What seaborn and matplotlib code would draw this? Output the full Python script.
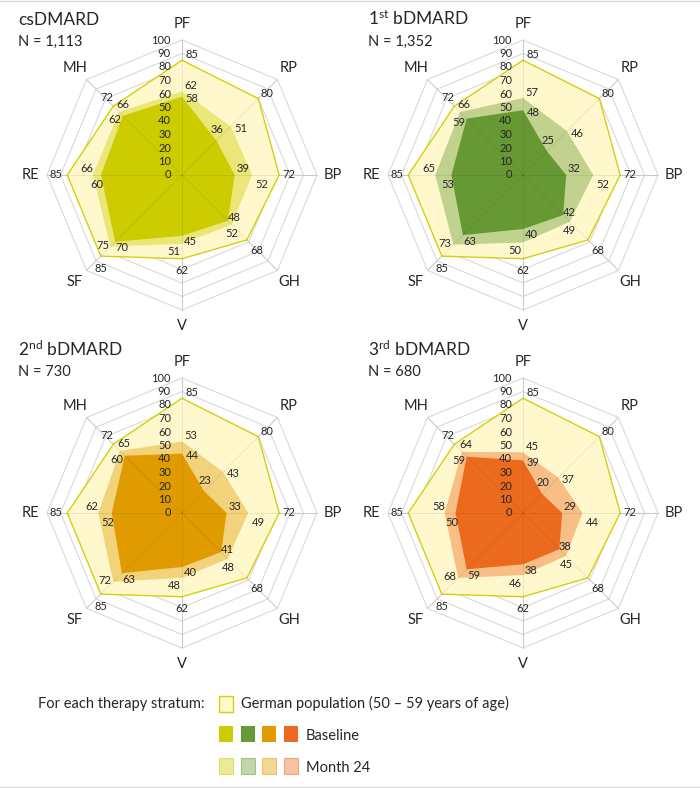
import numpy as np
import pandas as pd
import matplotlib as mpl
import matplotlib.pyplot as plt
import seaborn as sns
from matplotlib.patches import Rectangle
from matplotlib.lines import Line2D

# SF-36 domains, clockwise from the top
domains = ["PF", "RP", "BP", "GH", "V", "SF", "RE", "MH"]
population = [85, 80, 72, 68, 62, 85, 85, 72]

strata = ["csDMARD", "1st bDMARD", "2nd bDMARD", "3rd bDMARD"]
titles = ["csDMARD", r"1$^{\rm st}$ bDMARD", r"2$^{\rm nd}$ bDMARD", r"3$^{\rm rd}$ bDMARD"]
n_patients = ["1,113", "1,352", "730", "680"]

baseline_cs = [58, 36, 39, 48, 45, 70, 60, 62]
month24_cs = [62, 51, 52, 52, 51, 75, 66, 66]
baseline_b1 = [48, 25, 32, 42, 40, 63, 53, 59]
month24_b1 = [57, 46, 52, 49, 50, 73, 65, 66]
baseline_b2 = [44, 23, 33, 41, 40, 63, 52, 60]
month24_b2 = [53, 43, 49, 48, 48, 72, 62, 65]
baseline_b3 = [39, 20, 29, 38, 38, 59, 50, 59]
month24_b3 = [45, 37, 44, 45, 46, 68, 58, 64]

baselines = [baseline_cs, baseline_b1, baseline_b2, baseline_b3]
months24 = [month24_cs, month24_b1, month24_b2, month24_b3]
colors = ["#CCCC00", "#669933", "#E09B00", "#EB6A1E"]

rows = []
for s, b, m in zip(strata, baselines, months24):
    for d, vb, vm, vp in zip(domains, b, m, population):
        rows.append((s, d, "Population", vp))
        rows.append((s, d, "Month 24", vm))
        rows.append((s, d, "Baseline", vb))
df = pd.DataFrame(rows, columns=["stratum", "domain", "series", "value"])

# label offsets in pixels (dx, dy up) for each domain, per series
label_offsets = {
    "Population": [(10, 6), (9, 5), (10, 0), (10, -11), (0, -12), (0, -12), (-11, 0), (-6, 9)],
    "Month 24": [(9, 6), (10, -2), (10, -9), (0, -9), (-8, -8), (-8, 1), (-6, 7), (4, 7)],
    "Baseline": [(10, -2), (1, 11), (8, 6), (6, 3), (8, -6), (7, -6), (-4, -9), (-8, -4)],
}

sns.set_theme(style="white")
plt.rcParams["font.family"] = ["Lato", "DejaVu Sans"]
plt.rcParams["mathtext.fontset"] = "custom"
plt.rcParams["mathtext.rm"] = "Lato"
plt.rcParams["mathtext.it"] = "Lato:italic"
plt.rcParams["mathtext.bf"] = "Lato:bold"

TXT = "#262626"
GRID = "#D9D9D9"
W, H = 700, 788
R = 135
centers = [(182, 175), (523, 175), (182, 513), (523, 513)]
title_pos = [(18, 25, 46), (368, 25, 46), (18, 356, 376), (368, 356, 376)]

fig = plt.figure(figsize=(7, 7.88), dpi=100)
angles = np.arange(len(domains)) * 2 * np.pi / len(domains)
closed = np.r_[angles, angles[0]]

for i, stratum in enumerate(strata):
    cx, cy = centers[i]
    ax = fig.add_axes([(cx - R) / W, (H - cy - R) / H, 2 * R / W, 2 * R / H],
                      projection="polar")
    ax.set_theta_zero_location("N")
    ax.set_theta_direction(-1)
    ax.set_ylim(0, 100)
    ax.set_axis_off()

    # octagonal grid
    for lvl in range(10, 101, 10):
        ax.plot(closed, [lvl] * len(closed), color=GRID, lw=0.8, zorder=1, clip_on=False)
    for a in angles:
        ax.plot([a, a], [0, 100], color=GRID, lw=0.8, zorder=1, clip_on=False)

    sub = df[df.stratum == stratum]
    fills = {
        "Population": dict(facecolor="#FFF8CC", edgecolor="#D4CF10", lw=1.0, zorder=2),
        "Month 24": dict(facecolor=mpl.colors.to_rgba(colors[i], 0.4), edgecolor="none", zorder=3),
        "Baseline": dict(facecolor=colors[i], edgecolor="none", zorder=4),
    }
    for series in ["Population", "Month 24", "Baseline"]:
        vals = sub[sub.series == series].set_index("domain").loc[domains, "value"].to_numpy()
        ax.fill(closed, np.r_[vals, vals[0]], clip_on=False, **fills[series])
        for a, v, off in zip(angles, vals, label_offsets[series]):
            ax.annotate(str(v), xy=(a, v), xytext=off, textcoords="offset pixels",
                        ha="center", va="center", fontsize=8, color=TXT, zorder=7)

    # faint spokes through the filled areas
    for a in angles:
        ax.plot([a, a], [0, 100], color="black", alpha=0.07, lw=0.7, zorder=5, clip_on=False)

    # radial scale
    for lvl in range(0, 101, 10):
        ax.annotate(str(lvl), xy=(0, lvl), xytext=(-11, 0), textcoords="offset pixels",
                    ha="right", va="center", fontsize=8, color=TXT, zorder=7)

    for a, d in zip(angles, domains):
        ax.text(a, 112, d, ha="center", va="center", fontsize=10.5, color=TXT)

    tx, ty, ny = title_pos[i]
    fig.text(tx / W, 1 - ty / H, titles[i], fontsize=12.5, color=TXT, va="baseline")
    fig.text(tx / W, 1 - ny / H, "N = " + n_patients[i], fontsize=10.5, color=TXT, va="baseline")

# legend
def square(x, y, face, edge, lw=0.8):
    fig.add_artist(Rectangle((x / W, 1 - (y + 16) / H), 14 / W, 16 / H,
                             transform=fig.transFigure, facecolor=face, edgecolor=edge, lw=lw))

LEG = 10.5
fig.text(205 / W, 1 - 708 / H, "For each therapy stratum:", fontsize=LEG, color=TXT,
         ha="right", va="baseline")
square(219, 696, "#FFF8CC", "#D4CF10", 1.0)
fig.text(241 / W, 1 - 708 / H, "German population (50 \u2013 59 years of age)", fontsize=LEG,
         color=TXT, va="baseline")
for k, c in enumerate(colors):
    x = 219 + k * 21.7
    square(x, 726, c, "none")
    square(x, 758, mpl.colors.to_rgba(c, 0.4), mpl.colors.to_rgba(c, 0.5))
fig.text(306 / W, 1 - 740 / H, "Baseline", fontsize=LEG, color=TXT, va="baseline")
fig.text(306 / W, 1 - 772 / H, "Month 24", fontsize=LEG, color=TXT, va="baseline")

for yy in (0.5, 786.5):
    fig.add_artist(Line2D([0, 1], [1 - yy / H] * 2, transform=fig.transFigure,
                          color="#D9D9D9", lw=1))

fig.savefig("out.png", dpi=100)
